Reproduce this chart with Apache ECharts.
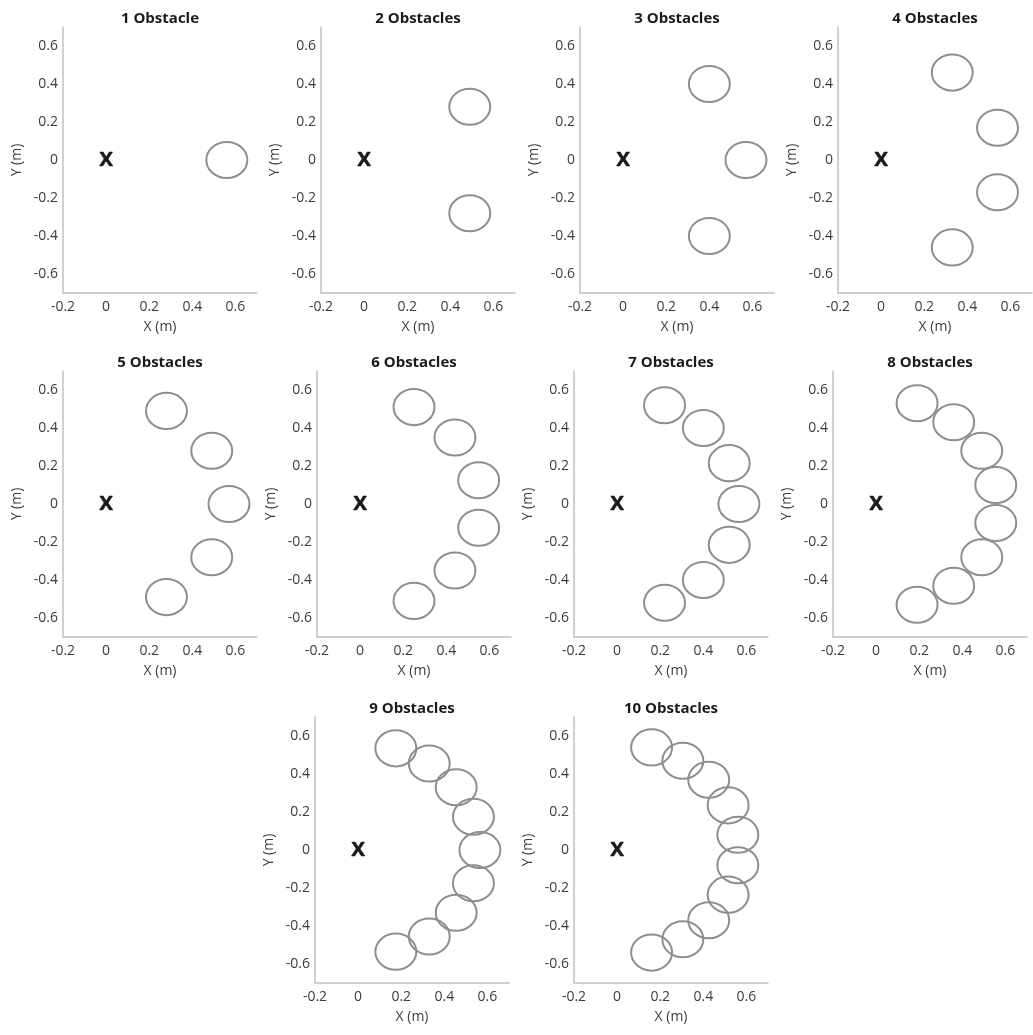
<!DOCTYPE html>
<html>
<head>
<meta charset="utf-8">
<script src="https://cdn.jsdelivr.net/npm/echarts@6/dist/echarts.min.js"></script>
<style>
html,body{margin:0;padding:0;background:#fff;}
#chart{width:1033px;height:1035px;}
</style>
</head>
<body>
<div id="chart"></div>
<script>
// ---------- data ----------
const panelTitles = ['1 Obstacle','2 Obstacles','3 Obstacles','4 Obstacles','5 Obstacles',
  '6 Obstacles','7 Obstacles','8 Obstacles','9 Obstacles','10 Obstacles'];
const obstacleX = [
  [0.56],
  [0.49, 0.49],
  [0.40, 0.57, 0.40],
  [0.33, 0.54, 0.54, 0.33],
  [0.28, 0.49, 0.57, 0.49, 0.28],
  [0.25, 0.44, 0.55, 0.55, 0.44, 0.25],
  [0.22, 0.40, 0.52, 0.565, 0.52, 0.40, 0.22],
  [0.19, 0.36, 0.49, 0.555, 0.555, 0.49, 0.36, 0.19],
  [0.175, 0.33, 0.455, 0.535, 0.565, 0.535, 0.455, 0.33, 0.175],
  [0.16, 0.305, 0.425, 0.515, 0.56, 0.56, 0.515, 0.425, 0.305, 0.16]
];
const obstacleY = [
  [0],
  [0.28, -0.28],
  [0.40, 0, -0.40],
  [0.46, 0.17, -0.17, -0.46],
  [0.49, 0.28, 0, -0.28, -0.49],
  [0.51, 0.35, 0.125, -0.125, -0.35, -0.51],
  [0.52, 0.40, 0.215, 0, -0.215, -0.40, -0.52],
  [0.53, 0.43, 0.28, 0.10, -0.10, -0.28, -0.43, -0.53],
  [0.535, 0.455, 0.33, 0.175, 0, -0.175, -0.33, -0.455, -0.535],
  [0.54, 0.47, 0.37, 0.235, 0.08, -0.08, -0.235, -0.37, -0.47, -0.54]
];
const obstacleRadius = 0.095;
const goalX = [0];
const goalY = [0];
const xTickLabels = ['-0.2','0','0.2','0.4','0.6'];
const yTickLabels = ['-0.6','-0.4','-0.2','0','0.2','0.4','0.6'];

// ---------- layout ----------
const gridLeft = [63, 321, 580, 838, 63, 317, 574, 833, 315, 574];
const gridTop  = [27, 27, 27, 27, 371, 371, 371, 371, 717, 717];
const gridW = 194, gridH = 266;

const labelColor = '#3c3c3c';
const font = '"Open Sans", "Liberation Sans", sans-serif';

function fmt(v, list){
  const s = (Math.round(v*10)/10);
  const str = s === 0 ? '0' : String(s);
  return list.indexOf(str) >= 0 ? str : '';
}

const grids = [], xAxes = [], yAxes = [], series = [], graphics = [];
for (let i = 0; i < 10; i++) {
  grids.push({left: gridLeft[i], top: gridTop[i], width: gridW, height: gridH, containLabel: false});
  xAxes.push({
    type: 'value', gridIndex: i, min: -0.2, max: 0.7, interval: 0.1,
    name: 'X (m)', nameLocation: 'middle', nameGap: 27,
    nameTextStyle: {color: labelColor, fontSize: 14, fontFamily: font},
    axisLine: {onZero: false, lineStyle: {color: '#c0c0c0', width: 1.5}},
    axisTick: {show: false}, splitLine: {show: false},
    axisLabel: {color: labelColor, fontSize: 14, fontFamily: font, margin: 7,
      showMaxLabel: false, formatter: v => fmt(v, xTickLabels)}
  });
  yAxes.push({
    type: 'value', gridIndex: i, min: -0.7, max: 0.7, interval: 0.1,
    name: 'Y (m)', nameLocation: 'middle', nameGap: 39,
    nameTextStyle: {color: labelColor, fontSize: 14, fontFamily: font},
    axisLine: {onZero: false, lineStyle: {color: '#c0c0c0', width: 1.5}},
    axisTick: {show: false}, splitLine: {show: false},
    axisLabel: {color: labelColor, fontSize: 14, fontFamily: font, margin: 5,
      formatter: v => fmt(v, yTickLabels)}
  });
  const pts = obstacleX[i].map((x, k) => [x, obstacleY[i][k]]);
  series.push({
    type: 'custom', xAxisIndex: i, yAxisIndex: i, data: pts, silent: true,
    renderItem: function(params, api){
      const c = api.coord([api.value(0), api.value(1)]);
      const s = api.size([obstacleRadius, obstacleRadius]);
      return {type: 'ellipse', shape: {cx: c[0], cy: c[1], rx: s[0], ry: s[1]},
        style: {fill: 'none', stroke: '#8e8e8e', lineWidth: 2}};
    }
  });
  series.push({
    type: 'scatter', xAxisIndex: i, yAxisIndex: i, silent: true,
    data: goalX.map((x, k) => [x, goalY[k]]),
    symbolSize: 1, itemStyle: {color: 'rgba(0,0,0,0)', opacity: 1},
    label: {show: true, position: 'inside', formatter: 'X', color: '#1a1a1a',
      fontSize: 20, fontWeight: 'bold', fontFamily: font,
      textBorderColor: '#1a1a1a', textBorderWidth: 0.6}
  });
  graphics.push({
    type: 'text',
    x: gridLeft[i] + gridW / 2, y: gridTop[i] - 8,
    style: {text: panelTitles[i], fill: '#1a1a1a', font: 'bold 15px ' + font,
      textAlign: 'center', textVerticalAlign: 'middle'}
  });
}

const chart = echarts.init(document.getElementById('chart'), null, {renderer: 'canvas'});
chart.setOption({
  backgroundColor: '#ffffff',
  animation: false,
  grid: grids, xAxis: xAxes, yAxis: yAxes, series: series,
  graphic: graphics
});
</script>
</body>
</html>
